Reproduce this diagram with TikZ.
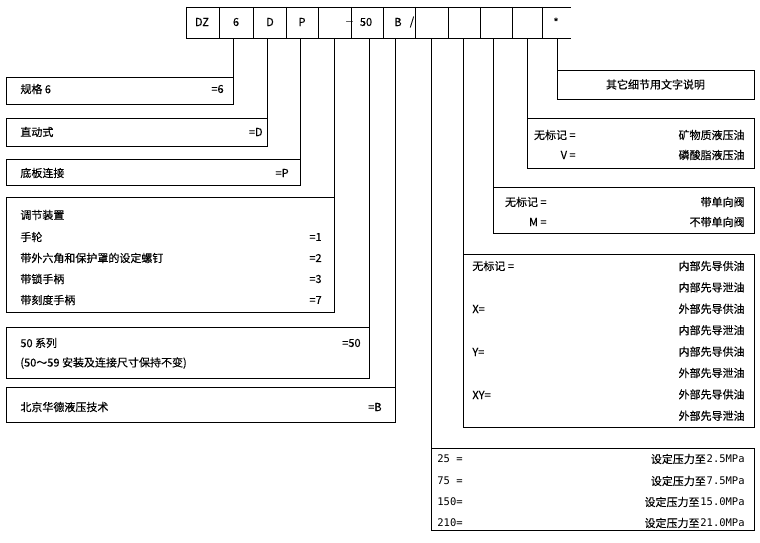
\documentclass[tikz,border=0pt]{standalone}
\usepackage{fontspec}
\setmainfont{Noto Sans CJK SC}[FakeBold=0.3]
\newfontfamily\monofont{DejaVu Sans Mono}
\begin{document}
\begin{tikzpicture}[x=1pt,y=-1pt,line width=0.8pt,
  font=\fontsize{11}{13}\selectfont,
  box/.style={draw,anchor=north west,inner sep=0pt,outer sep=0pt},
  lt/.style={anchor=west,inner sep=0pt},
  rt/.style={anchor=east,inner sep=0pt},
  mono/.style={font=\monofont\fontsize{10.5}{13}\selectfont}]
  \useasboundingbox (0,0) rectangle (760,543);
  \draw (186,7) -- (571,7);
  \draw (186,38) -- (571,38);
  \foreach \x in {186,219,253,286,318,351,383,415,448,480,512,542}
    \draw (\x,7) -- (\x,38);
  \coordinate (hb) at (0,38);
  \node (hDZ) at (202,22) {DZ};
  \node (h6) at (236,22) {6};
  \node (hD) at (270,22) {D};
  \node (hP) at (302,22) {P};
  \node[font=\fontsize{10}{12}\selectfont\boldmath,inner sep=0pt] (hdash) at (349.5,22) {$-$};
  \node (h50) at (366,22) {50};
  \node (hB) at (398,22) {B};
  \node (hslash) at (412,22) {/};
  \node (hstar) at (556,22) {*};
  % left boxes
  \node[box,minimum width=227pt,minimum height=27pt] (b1) at (6,77) {};
  \node[box,minimum width=261pt,minimum height=28pt] (b2) at (6,118) {};
  \node[box,minimum width=294pt,minimum height=26pt] (b3) at (6,159) {};
  \node[box,minimum width=328pt,minimum height=115pt] (b4) at (6,197) {};
  \node[box,minimum width=363pt,minimum height=51pt] (b5) at (6,327) {};
  \node[box,minimum width=389pt,minimum height=35pt] (b6) at (6,387) {};
  \foreach \b in {b1,b2,b3,b4,b5,b6}
    \draw (\b.north east) -- (\b.north east |- hb);
  \node[lt] (size) at (20,89) {规格 6};
  \node[rt] (sizev) at (224,89) {=6};
  \node[lt] (direct) at (20,132) {直动式};
  \node[rt] (directv) at (263,132) {=D};
  \node[lt] (plate) at (20,173) {底板连接};
  \node[rt] (platev) at (289,173) {=P};
  \node[lt] (adj) at (20,215) {调节装置};
  \foreach \y/\t/\v [count=\i] in {237/手轮/=1,258/带外六角和保护罩的设定螺钉/=2,
      279/带锁手柄/=3,300/带刻度手柄/=7}{
    \node[lt] (adj\i) at (20,\y) {\t};
    \node[rt] (adjv\i) at (322,\y) {\v};
  }
  \node[lt] (ser) at (20,343) {50 系列};
  \node[rt] (serv) at (361,343) {=50};
  \node[lt] (ser2) at (20,363) {(50～59 安装及连接尺寸保持不变)};
  \node[lt] (mfr) at (20,407) {北京华德液压技术};
  \node[rt] (mfrv) at (382,407) {=B};
  % right boxes
  \node[box,minimum width=323pt,minimum height=82pt] (r1) at (431,448) {};
  \node[box,minimum width=291pt,minimum height=173pt] (r2) at (463,254) {};
  \node[box,minimum width=261pt,minimum height=46pt] (r3) at (493,187) {};
  \node[box,minimum width=227pt,minimum height=50pt] (r4) at (527,118) {};
  \node[box,minimum width=197pt,minimum height=29pt] (r5) at (557,70) {};
  \foreach \b in {r1,r2,r3,r4,r5}
    \draw (\b.north west) -- (\b.north west |- hb);
  \node (note) at (r5.center) {其它细节用文字说明};
  \node[rt] (oil1) at (576,135) {无标记 =};
  \node[rt] (oil2) at (576,155) {V =};
  \node[rt] (oilv1) at (745,135) {矿物质液压油};
  \node[rt] (oilv2) at (745,155) {磷酸脂液压油};
  \node[rt] (chk1) at (547,202) {无标记 =};
  \node[rt] (chk2) at (547,222) {M =};
  \node[rt] (chkv1) at (745,202) {带单向阀};
  \node[rt] (chkv2) at (745,222) {不带单向阀};
  \node[lt] (pil1) at (472,266) {无标记 =};
  \node[lt] (pil2) at (472,309) {X=};
  \node[lt] (pil3) at (472,352) {Y=};
  \node[lt] (pil4) at (472,395) {XY=};
  \foreach \t [count=\i from 0] in {内部先导供油,内部先导泄油,外部先导供油,内部先导泄油,
      内部先导供油,外部先导泄油,外部先导供油,外部先导泄油}
    \node[rt] (pilv\i) at (745,266+21.4*\i) {\t};
  \foreach \p/\t/\y [count=\i] in {25 =/2.5MPa/459,75 =/7.5MPa/481,
      150=/15.0MPa/502,210=/21.0MPa/523}{
    \node[lt,mono] (pr\i) at (437,\y) {\p};
    \node[rt,mono] (prv\i) at (745,\y) {\t};
    \node[rt] (prt\i) at (prv\i.west) {设定压力至};
  }
\end{tikzpicture}
\end{document}
